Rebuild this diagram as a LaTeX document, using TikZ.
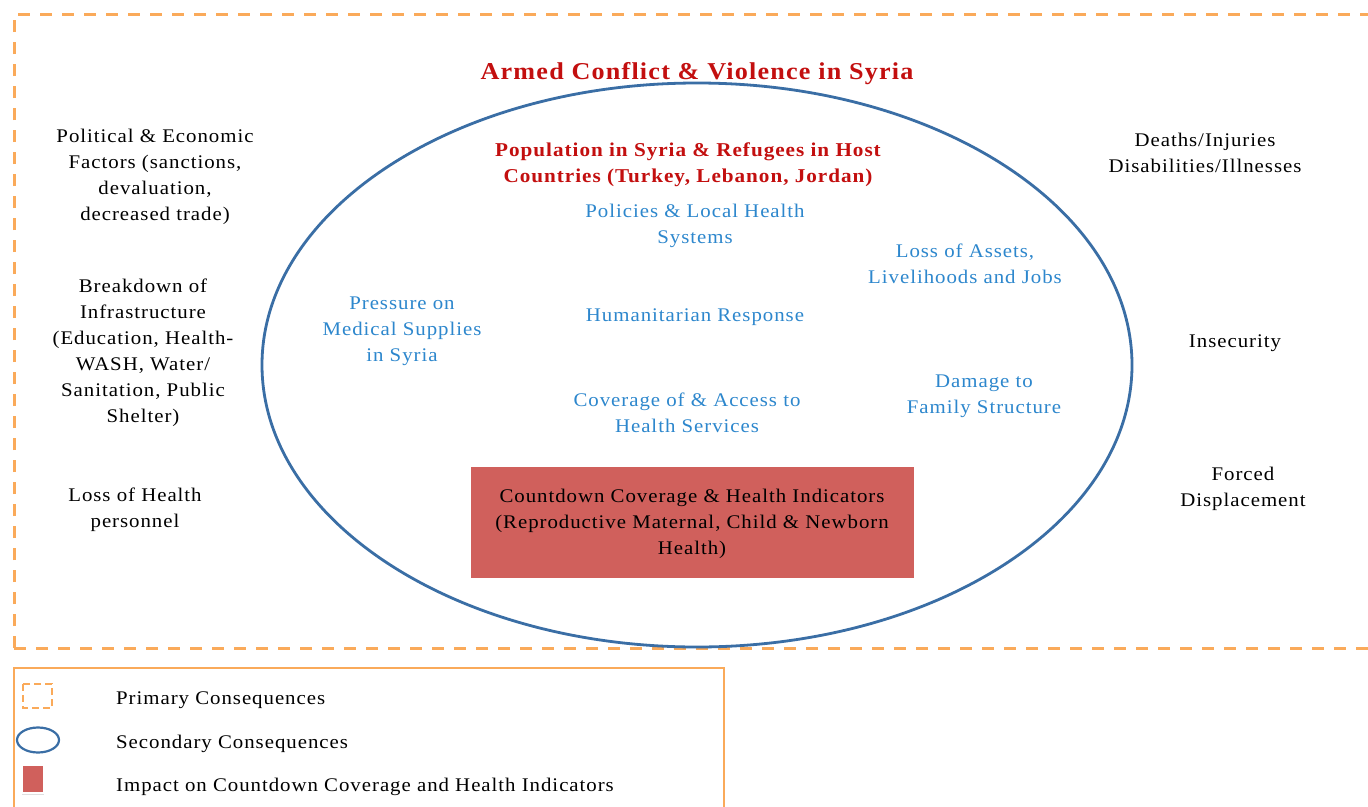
\documentclass[tikz,border=0pt]{standalone}
\usepackage{fontspec}
\setmainfont{Liberation Serif}[FakeStretch=1.08,LetterSpace=5]
\usetikzlibrary{shadows}
\definecolor{orng}{RGB}{250,170,90}
\definecolor{elblue}{RGB}{58,110,165}
\definecolor{txblue}{RGB}{45,135,205}
\definecolor{ttred}{RGB}{195,15,15}
\definecolor{boxred}{RGB}{208,96,92}
\begin{document}
\begin{tikzpicture}[x=1pt,y=-1pt,
  body/.style={align=center,inner sep=0pt,yshift=-2pt,font=\fontsize{19.3}{26}\selectfont},
  bluetxt/.style={body,text=txblue},
  legtxt/.style={anchor=west,inner sep=0pt,yshift=-1.5pt,font=\fontsize{19.3}{22}\selectfont},
  primary/.style={draw=orng,line width=3pt,dash pattern=on 12pt off 10pt},
  secondary/.style={draw=elblue,line width=2.8pt},
  impact/.style={fill=boxred,draw=white,line width=3pt,drop shadow={opacity=0.25,shadow xshift=0pt,shadow yshift=-2pt}}]
\useasboundingbox (0,0) rectangle (1368,806);
\clip (0,0) rectangle (1368,806);
\fill[white] (0,0) rectangle (1368,806);
% primary frame
\draw[primary] (14,648) -- (14,14) -- (1390,14) (14,648) -- (1390,648);
% secondary ellipse
\draw[secondary] (697,365) ellipse [x radius=435, y radius=282];
% title
\node[inner sep=0pt,text=ttred,yshift=-3pt,font=\fontsize{24.2}{26}\selectfont\bfseries] (title) at (697,71) {Armed Conflict \& Violence in Syria};
\node[body,text=ttred,font=\fontsize{19.6}{26}\selectfont\bfseries] (pop) at (688,163) {Population in Syria \& Refugees in Host\\Countries (Turkey, Lebanon, Jordan)};
\node[bluetxt] (pol) at (695,224) {Policies \& Local Health\\Systems};
\node[bluetxt] (assets) at (965,262) {Loss of Assets,\\Livelihoods and Jobs};
\node[bluetxt] (press) at (402,329) {Pressure on\\Medical Supplies\\in Syria};
\node[bluetxt] (hum) at (695,315) {Humanitarian Response};
\node[bluetxt] (cov) at (687,411) {Coverage of \& Access to\\Health Services};
\node[bluetxt] (fam) at (984,394) {Damage to\\Family Structure};
% impact box
\node[impact,minimum width=446pt,minimum height=114pt,inner sep=0pt] (cd) at (692,522) {};
\node[body] (cdt) at (cd.center) {Countdown Coverage \& Health Indicators\\(Reproductive Maternal, Child \& Newborn\\Health)};
% left
\node[body] (polec) at (155,175) {Political \& Economic\\Factors (sanctions,\\devaluation,\\decreased trade)};
\node[body] (infra) at (143,351) {Breakdown of\\Infrastructure\\(Education, Health-\\WASH, Water/\\Sanitation, Public\\Shelter)};
\node[body] (lhp) at (135,508) {Loss of Health\\personnel};
% right
\node[body] (death) at (1205,151) {Deaths/Injuries\\Disabilities/Illnesses};
\node[body] (insec) at (1235,341) {Insecurity};
\node[body] (forced) at (1243,487) {Forced\\Displacement};
% legend
\draw[orng,line width=2.2pt] (14,810) -- (14,668) -- (724,668) -- (724,810);
\draw[primary,line width=2.4pt,dash pattern=on 7pt off 4pt] (23,684) rectangle (52,708);
\node[legtxt] (l1) at (116,699) {Primary Consequences};
\draw[secondary,line width=2.2pt] (38,740) ellipse [x radius=21, y radius=12.5];
\node[legtxt] (l2) at (116,742) {Secondary Consequences};
\node[impact,draw=white,line width=1.5pt,minimum width=22pt,minimum height=28pt,inner sep=0pt] (lsq) at (33,779) {};
\node[legtxt] (l3) at (116,785) {Impact on Countdown Coverage and Health Indicators};
\end{tikzpicture}
\end{document}
